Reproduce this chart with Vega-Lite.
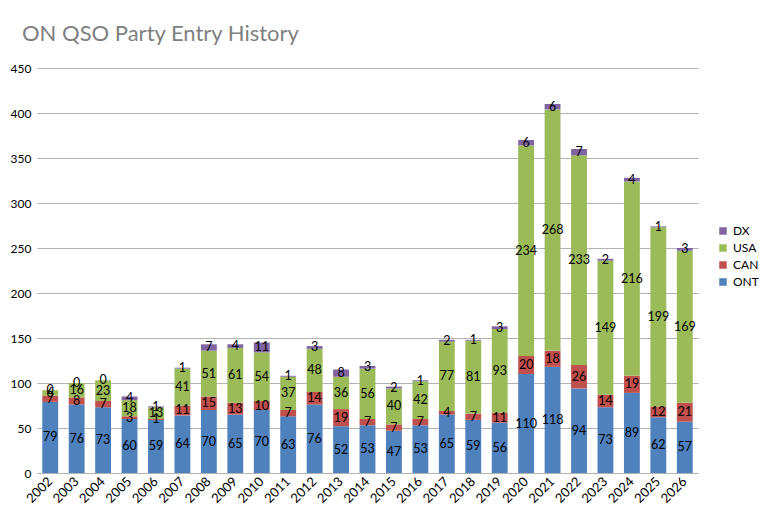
{
  "$schema": "https://vega.github.io/schema/vega-lite/v6.json",
  "autosize": "none",
  "width": 661,
  "height": 405,
  "padding": {"left": 37, "top": 68, "right": 67, "bottom": 43},
  "title": {
    "text": "ON QSO Party Entry History",
    "anchor": "start",
    "frame": "group",
    "dx": -15,
    "offset": 16,
    "font": "Lato",
    "fontSize": 22,
    "fontWeight": "normal",
    "color": "#7f7f7f"
  },
  "config": {
    "view": {"stroke": null},
    "font": "Lato",
    "axis": {"labelFont": "Lato", "labelFontSize": 12, "labelColor": "#000000"},
    "legend": {"labelFont": "Lato", "labelFontSize": 12, "labelColor": "#000000"}
  },
  "data": {
    "values": [
      {"year": "2002", "cat": "ONT", "ord": 1, "n": 79}, {"year": "2002", "cat": "CAN", "ord": 2, "n": 7}, {"year": "2002", "cat": "USA", "ord": 3, "n": 6}, {"year": "2002", "cat": "DX", "ord": 4, "n": 0},
      {"year": "2003", "cat": "ONT", "ord": 1, "n": 76}, {"year": "2003", "cat": "CAN", "ord": 2, "n": 8}, {"year": "2003", "cat": "USA", "ord": 3, "n": 16}, {"year": "2003", "cat": "DX", "ord": 4, "n": 0},
      {"year": "2004", "cat": "ONT", "ord": 1, "n": 73}, {"year": "2004", "cat": "CAN", "ord": 2, "n": 7}, {"year": "2004", "cat": "USA", "ord": 3, "n": 23}, {"year": "2004", "cat": "DX", "ord": 4, "n": 0},
      {"year": "2005", "cat": "ONT", "ord": 1, "n": 60}, {"year": "2005", "cat": "CAN", "ord": 2, "n": 3}, {"year": "2005", "cat": "USA", "ord": 3, "n": 18}, {"year": "2005", "cat": "DX", "ord": 4, "n": 4},
      {"year": "2006", "cat": "ONT", "ord": 1, "n": 59}, {"year": "2006", "cat": "CAN", "ord": 2, "n": 1}, {"year": "2006", "cat": "USA", "ord": 3, "n": 13}, {"year": "2006", "cat": "DX", "ord": 4, "n": 1},
      {"year": "2007", "cat": "ONT", "ord": 1, "n": 64}, {"year": "2007", "cat": "CAN", "ord": 2, "n": 11}, {"year": "2007", "cat": "USA", "ord": 3, "n": 41}, {"year": "2007", "cat": "DX", "ord": 4, "n": 1},
      {"year": "2008", "cat": "ONT", "ord": 1, "n": 70}, {"year": "2008", "cat": "CAN", "ord": 2, "n": 15}, {"year": "2008", "cat": "USA", "ord": 3, "n": 51}, {"year": "2008", "cat": "DX", "ord": 4, "n": 7},
      {"year": "2009", "cat": "ONT", "ord": 1, "n": 65}, {"year": "2009", "cat": "CAN", "ord": 2, "n": 13}, {"year": "2009", "cat": "USA", "ord": 3, "n": 61}, {"year": "2009", "cat": "DX", "ord": 4, "n": 4},
      {"year": "2010", "cat": "ONT", "ord": 1, "n": 70}, {"year": "2010", "cat": "CAN", "ord": 2, "n": 10}, {"year": "2010", "cat": "USA", "ord": 3, "n": 54}, {"year": "2010", "cat": "DX", "ord": 4, "n": 11},
      {"year": "2011", "cat": "ONT", "ord": 1, "n": 63}, {"year": "2011", "cat": "CAN", "ord": 2, "n": 7}, {"year": "2011", "cat": "USA", "ord": 3, "n": 37}, {"year": "2011", "cat": "DX", "ord": 4, "n": 1},
      {"year": "2012", "cat": "ONT", "ord": 1, "n": 76}, {"year": "2012", "cat": "CAN", "ord": 2, "n": 14}, {"year": "2012", "cat": "USA", "ord": 3, "n": 48}, {"year": "2012", "cat": "DX", "ord": 4, "n": 3},
      {"year": "2013", "cat": "ONT", "ord": 1, "n": 52}, {"year": "2013", "cat": "CAN", "ord": 2, "n": 19}, {"year": "2013", "cat": "USA", "ord": 3, "n": 36}, {"year": "2013", "cat": "DX", "ord": 4, "n": 8},
      {"year": "2014", "cat": "ONT", "ord": 1, "n": 53}, {"year": "2014", "cat": "CAN", "ord": 2, "n": 7}, {"year": "2014", "cat": "USA", "ord": 3, "n": 56}, {"year": "2014", "cat": "DX", "ord": 4, "n": 3},
      {"year": "2015", "cat": "ONT", "ord": 1, "n": 47}, {"year": "2015", "cat": "CAN", "ord": 2, "n": 7}, {"year": "2015", "cat": "USA", "ord": 3, "n": 40}, {"year": "2015", "cat": "DX", "ord": 4, "n": 2},
      {"year": "2016", "cat": "ONT", "ord": 1, "n": 53}, {"year": "2016", "cat": "CAN", "ord": 2, "n": 7}, {"year": "2016", "cat": "USA", "ord": 3, "n": 42}, {"year": "2016", "cat": "DX", "ord": 4, "n": 1},
      {"year": "2017", "cat": "ONT", "ord": 1, "n": 65}, {"year": "2017", "cat": "CAN", "ord": 2, "n": 4}, {"year": "2017", "cat": "USA", "ord": 3, "n": 77}, {"year": "2017", "cat": "DX", "ord": 4, "n": 2},
      {"year": "2018", "cat": "ONT", "ord": 1, "n": 59}, {"year": "2018", "cat": "CAN", "ord": 2, "n": 7}, {"year": "2018", "cat": "USA", "ord": 3, "n": 81}, {"year": "2018", "cat": "DX", "ord": 4, "n": 1},
      {"year": "2019", "cat": "ONT", "ord": 1, "n": 56}, {"year": "2019", "cat": "CAN", "ord": 2, "n": 11}, {"year": "2019", "cat": "USA", "ord": 3, "n": 93}, {"year": "2019", "cat": "DX", "ord": 4, "n": 3},
      {"year": "2020", "cat": "ONT", "ord": 1, "n": 110}, {"year": "2020", "cat": "CAN", "ord": 2, "n": 20}, {"year": "2020", "cat": "USA", "ord": 3, "n": 234}, {"year": "2020", "cat": "DX", "ord": 4, "n": 6},
      {"year": "2021", "cat": "ONT", "ord": 1, "n": 118}, {"year": "2021", "cat": "CAN", "ord": 2, "n": 18}, {"year": "2021", "cat": "USA", "ord": 3, "n": 268}, {"year": "2021", "cat": "DX", "ord": 4, "n": 6},
      {"year": "2022", "cat": "ONT", "ord": 1, "n": 94}, {"year": "2022", "cat": "CAN", "ord": 2, "n": 26}, {"year": "2022", "cat": "USA", "ord": 3, "n": 233}, {"year": "2022", "cat": "DX", "ord": 4, "n": 7},
      {"year": "2023", "cat": "ONT", "ord": 1, "n": 73}, {"year": "2023", "cat": "CAN", "ord": 2, "n": 14}, {"year": "2023", "cat": "USA", "ord": 3, "n": 149}, {"year": "2023", "cat": "DX", "ord": 4, "n": 2},
      {"year": "2024", "cat": "ONT", "ord": 1, "n": 89}, {"year": "2024", "cat": "CAN", "ord": 2, "n": 19}, {"year": "2024", "cat": "USA", "ord": 3, "n": 216}, {"year": "2024", "cat": "DX", "ord": 4, "n": 4},
      {"year": "2025", "cat": "ONT", "ord": 1, "n": 62}, {"year": "2025", "cat": "CAN", "ord": 2, "n": 12}, {"year": "2025", "cat": "USA", "ord": 3, "n": 199}, {"year": "2025", "cat": "DX", "ord": 4, "n": 1},
      {"year": "2026", "cat": "ONT", "ord": 1, "n": 57}, {"year": "2026", "cat": "CAN", "ord": 2, "n": 21}, {"year": "2026", "cat": "USA", "ord": 3, "n": 169}, {"year": "2026", "cat": "DX", "ord": 4, "n": 3}
    ]
  },
  "encoding": {
    "x": {
      "field": "year",
      "type": "ordinal",
      "title": null,
      "scale": {"paddingInner": 0.4, "paddingOuter": 0.2},
      "axis": {
        "labelAngle": -45,
        "labelAlign": "right",
        "labelBaseline": "middle",
        "labelPadding": 6,
        "labelFontSize": 13,
        "ticks": false,
        "domainColor": "#b3b3b3",
        "grid": false
      }
    }
  },
  "layer": [
    {
      "mark": {"type": "bar"},
      "encoding": {
        "y": {
          "field": "n",
          "type": "quantitative",
          "stack": "zero",
          "title": null,
          "scale": {"domain": [0, 450]},
          "axis": {
            "values": [0, 50, 100, 150, 200, 250, 300, 350, 400, 450],
            "domain": false,
            "ticks": false,
            "gridColor": "#b3b3b3",
            "labelPadding": 6
          }
        },
        "color": {
          "field": "cat",
          "type": "nominal",
          "title": null,
          "scale": {
            "domain": ["DX", "USA", "CAN", "ONT"],
            "range": ["#8064a2", "#9bbb59", "#c0504d", "#4f81bd"]
          },
          "legend": {
            "orient": "none",
            "legendX": 680,
            "legendY": 157,
            "symbolType": "square",
            "symbolSize": 56,
            "symbolStrokeWidth": 0,
            "rowPadding": 5,
            "labelOffset": 4
          }
        },
        "order": {"field": "ord", "type": "quantitative"}
      }
    },
    {
      "mark": {"type": "text", "fontSize": 12.5, "color": "#000000", "baseline": "middle"},
      "encoding": {
        "y": {"field": "n", "type": "quantitative", "stack": "zero", "bandPosition": 0.5},
        "detail": {"field": "cat"},
        "order": {"field": "ord", "type": "quantitative"},
        "text": {"field": "n", "type": "quantitative"}
      }
    }
  ]
}
